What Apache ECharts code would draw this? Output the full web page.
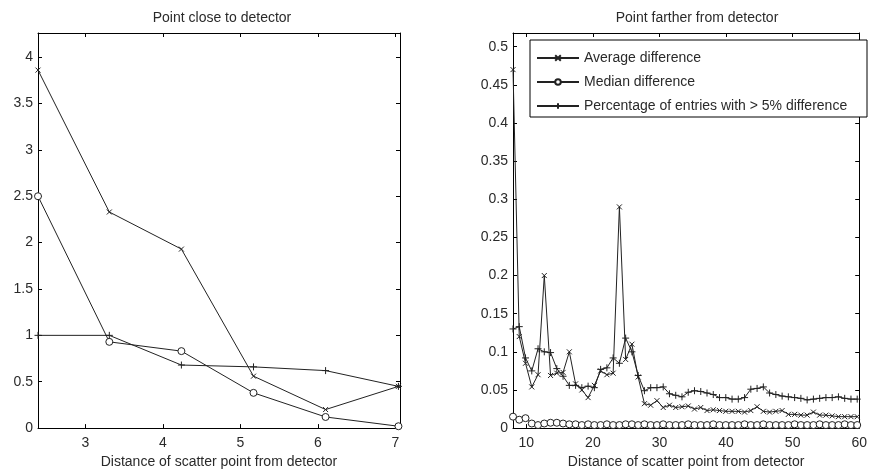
<!DOCTYPE html>
<html>
<head>
<meta charset="utf-8">
<script src="https://cdn.jsdelivr.net/npm/echarts@6/dist/echarts.min.js"></script>
<style>
html,body{margin:0;padding:0;background:#fff;}
#chart{width:870px;height:474px;}
</style>
</head>
<body>
<div id="chart"></div>
<script>
// ---- Left panel data: point close to detector ----
const leftTitle = "Point close to detector";
const leftX = [2.39, 3.31, 4.24, 5.17, 6.10, 7.04];
const leftAvg = [3.86, 2.33, 1.93, 0.56, 0.20, 0.45];
const leftMed = [2.50, 0.93, 0.83, 0.38, 0.12, 0.02];
const leftPct = [1.00, 1.00, 0.68, 0.66, 0.62, 0.45];
const leftXTicks = [3, 4, 5, 6, 7];
const leftYTicks = [0, 0.5, 1, 1.5, 2, 2.5, 3, 3.5, 4];

// ---- Right panel data: point farther from detector ----
const rightTitle = "Point farther from detector";
const rightX = [8.0, 8.94, 9.88, 10.82, 11.76, 12.7, 13.64, 14.58, 15.52, 16.46,
  17.4, 18.34, 19.28, 20.22, 21.16, 22.1, 23.04, 23.98, 24.92, 25.86,
  26.8, 27.74, 28.68, 29.62, 30.56, 31.5, 32.44, 33.38, 34.32, 35.26,
  36.2, 37.14, 38.08, 39.02, 39.96, 40.9, 41.84, 42.78, 43.72, 44.66,
  45.6, 46.54, 47.48, 48.42, 49.36, 50.3, 51.24, 52.18, 53.12, 54.06,
  55.0, 55.94, 56.88, 57.82, 58.76, 59.7];
const rightAvg = [0.47, 0.12, 0.085, 0.054, 0.07, 0.2, 0.069, 0.072, 0.073, 0.1,
  0.058, 0.05, 0.04, 0.056, 0.075, 0.07, 0.072, 0.29, 0.09, 0.11,
  0.067, 0.032, 0.03, 0.036, 0.027, 0.03, 0.027, 0.028, 0.029, 0.025,
  0.027, 0.023, 0.024, 0.023, 0.022, 0.022, 0.022, 0.021, 0.023, 0.028,
  0.022, 0.021, 0.022, 0.023, 0.018, 0.018, 0.017, 0.017, 0.021, 0.017,
  0.017, 0.016, 0.015, 0.015, 0.015, 0.015];
const rightMed = [0.015, 0.011, 0.013, 0.006, 0.004, 0.006, 0.007, 0.007, 0.006, 0.005,
  0.005, 0.004, 0.005, 0.004, 0.004, 0.005, 0.004, 0.004, 0.005, 0.005,
  0.004, 0.005, 0.004, 0.004, 0.005, 0.004, 0.004, 0.004, 0.005, 0.004,
  0.004, 0.004, 0.005, 0.004, 0.004, 0.004, 0.004, 0.005, 0.004, 0.004,
  0.005, 0.004, 0.004, 0.004, 0.004, 0.005, 0.004, 0.004, 0.004, 0.005,
  0.004, 0.004, 0.004, 0.005, 0.004, 0.004];
const rightPct = [0.13, 0.133, 0.092, 0.075, 0.104, 0.1, 0.099, 0.078, 0.068, 0.056,
  0.056, 0.053, 0.055, 0.053, 0.077, 0.079, 0.092, 0.085, 0.118, 0.1,
  0.069, 0.049, 0.053, 0.053, 0.054, 0.045, 0.043, 0.041, 0.047, 0.049,
  0.048, 0.046, 0.044, 0.04, 0.04, 0.038, 0.038, 0.04, 0.051, 0.052,
  0.054, 0.046, 0.044, 0.042, 0.041, 0.04, 0.039, 0.037, 0.038, 0.039,
  0.04, 0.04, 0.041, 0.039, 0.038, 0.038];
const rightXTicks = [10, 20, 30, 40, 50, 60];
const rightYTicks = [0, 0.05, 0.1, 0.15, 0.2, 0.25, 0.3, 0.35, 0.4, 0.45, 0.5];

const seriesNames = ["Average difference", "Median difference", "Percentage of entries with > 5% difference"];
const xLabel = "Distance of scatter point from detector";

// ---- styling ----
const FONT = "Liberation Sans";
const INK = "#222";
const TXT = "#2a2a2a";
const SYM_X = "path://M0,0L10,10M10,0L0,10";
const SYM_PLUS = "path://M5,0L5,10M0,5L10,5";

function zip(xs, ys) { return xs.map((x, i) => [x, ys[i]]); }

function xAxisPair(grid, min, max, ticks, withName) {
  const base = {
    gridIndex: grid, type: "value", min: min, max: max,
    axisLine: { show: true, onZero: false, lineStyle: { color: "#000", width: 1 } },
    axisTick: { show: true, inside: true, length: 4, customValues: ticks, lineStyle: { color: "#000" } },
    splitLine: { show: false }
  };
  return [
    Object.assign({}, base, {
      position: "bottom",
      axisLabel: { show: true, customValues: ticks, margin: 8, fontSize: 14, fontFamily: FONT, color: TXT },
      name: withName, nameLocation: "middle", nameGap: 26,
      nameTextStyle: { fontSize: 14, fontFamily: FONT, color: TXT }
    }),
    Object.assign({}, base, { position: "top", axisLabel: { show: false } })
  ];
}
function yAxisPair(grid, min, max, ticks) {
  const base = {
    gridIndex: grid, type: "value", min: min, max: max,
    axisLine: { show: true, onZero: false, lineStyle: { color: "#000", width: 1 } },
    axisTick: { show: true, inside: true, length: 4, customValues: ticks, lineStyle: { color: "#000" } },
    splitLine: { show: false }
  };
  return [
    Object.assign({}, base, {
      position: "left",
      axisLabel: { show: true, customValues: ticks, margin: 5, fontSize: 14, fontFamily: FONT, color: TXT }
    }),
    Object.assign({}, base, { position: "right", axisLabel: { show: false } })
  ];
}

function mkSeries(name, data, xi, yi, kind) {
  const s = {
    name: name, type: "line", xAxisIndex: xi, yAxisIndex: yi, data: data,
    showAllSymbol: true, animation: false,
    lineStyle: { color: INK, width: 1 },
    emphasis: { disabled: true }
  };
  if (kind === "x") {
    s.symbol = SYM_X; s.symbolSize = 5;
    s.itemStyle = { color: INK, borderColor: INK, borderWidth: 1 };
  } else if (kind === "o") {
    s.symbol = "circle"; s.symbolSize = 7;
    s.itemStyle = { color: "#fff", borderColor: "#222", borderWidth: 1 };
  } else {
    s.symbol = SYM_PLUS; s.symbolSize = 7;
    s.itemStyle = { color: INK, borderColor: INK, borderWidth: 1 };
  }
  return s;
}

const chart = echarts.init(document.getElementById("chart"), null, { renderer: "canvas" });
chart.setOption({
  backgroundColor: "#fff",
  animation: false,
  textStyle: { fontFamily: FONT },
  title: [
    { text: leftTitle, left: 217, top: 6, textAlign: "center",
      textStyle: { fontSize: 14, fontWeight: "normal", fontFamily: FONT, color: TXT } },
    { text: rightTitle, left: 692, top: 6, textAlign: "center",
      textStyle: { fontSize: 14, fontWeight: "normal", fontFamily: FONT, color: TXT } }
  ],
  grid: [
    { left: 38, top: 33, width: 362, height: 398, containLabel: false },
    { left: 513, top: 33, width: 356, height: 398, containLabel: false }
  ],
  xAxis: [].concat(
    xAxisPair(0, 2.39, 7.06, leftXTicks, xLabel),
    xAxisPair(1, 8, 60, rightXTicks, xLabel)
  ),
  yAxis: [].concat(
    yAxisPair(0, 0, 4.26, leftYTicks),
    yAxisPair(1, 0, 0.518, rightYTicks)
  ),
  graphic: [
    { type: "rect", shape: { x: 530, y: 40, width: 337, height: 77 },
      style: { fill: "#fff", stroke: "#000", lineWidth: 1 }, z: 100 }
  ],
  legend: {
    orient: "vertical", left: 536, top: 51, z: 110,
    itemWidth: 42, itemHeight: 7, itemGap: 10, padding: 0,
    textStyle: { fontSize: 14, fontFamily: FONT, color: TXT },
    data: seriesNames
  },
  series: [
    mkSeries(seriesNames[0], zip(leftX, leftAvg), 0, 0, "x"),
    mkSeries(seriesNames[1], zip(leftX, leftMed), 0, 0, "o"),
    mkSeries(seriesNames[2], zip(leftX, leftPct), 0, 0, "+"),
    mkSeries(seriesNames[0], zip(rightX, rightAvg), 2, 2, "x"),
    mkSeries(seriesNames[1], zip(rightX, rightMed), 2, 2, "o"),
    mkSeries(seriesNames[2], zip(rightX, rightPct), 2, 2, "+")
  ]
});
</script>
</body>
</html>
